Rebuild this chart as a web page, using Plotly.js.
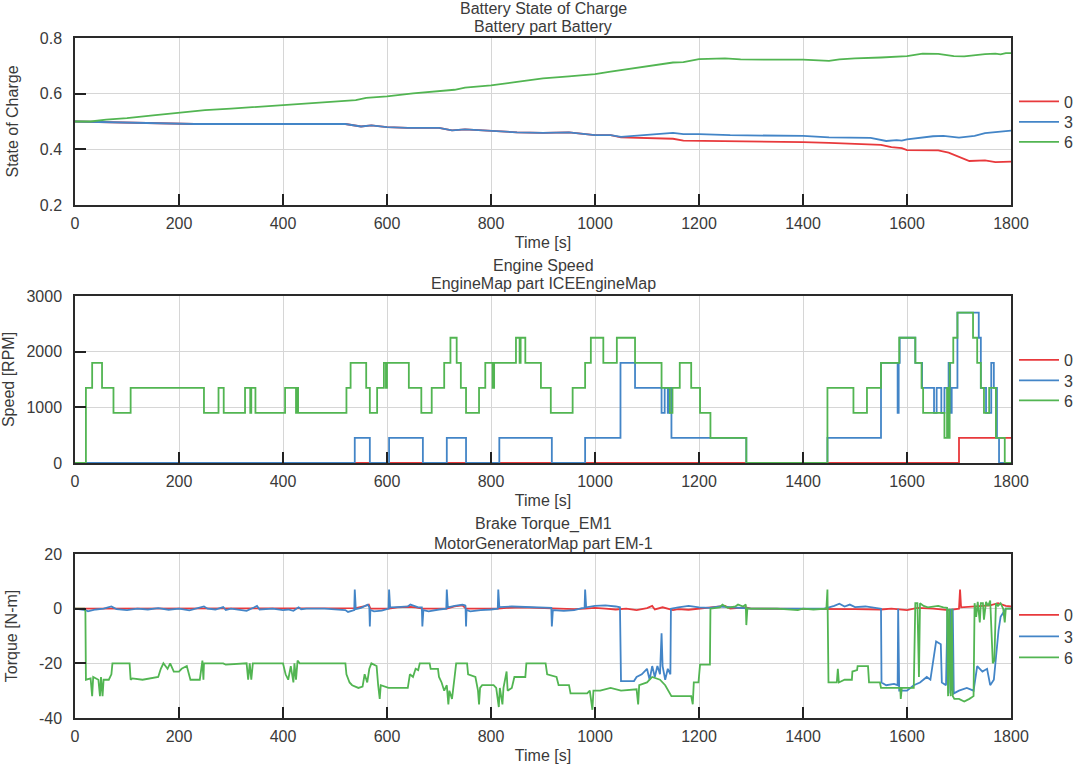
<!DOCTYPE html>
<html>
<head>
<meta charset="utf-8">
<script src="https://cdn.plot.ly/plotly-3.0.1.min.js"></script>
<style>html,body{margin:0;padding:0;background:#fff;}#chart{width:1080px;height:769px;}</style>
</head>
<body>
<div id="chart"></div>
<script>
// ---------- Data ----------
const seriesNames = ["0", "3", "6"];

// Battery state of charge
const soc0T = [0,30,100,200,230,400,520,550,570,600,640,700,725,750,800,850,900,950,1000,1030,1050,1100,1150,1170,1250,1300,1400,1450,1500,1550,1570,1590,1600,1660,1680,1700,1720,1750,1760,1770,1800];
const soc0  = [0.500,0.499,0.496,0.494,0.491,0.491,0.491,0.482,0.486,0.480,0.477,0.477,0.468,0.472,0.467,0.461,0.459,0.461,0.451,0.451,0.443,0.440,0.438,0.431,0.430,0.428,0.426,0.423,0.420,0.416,0.408,0.404,0.397,0.396,0.388,0.373,0.358,0.360,0.356,0.354,0.356];
const soc3T = [0,30,100,200,230,400,520,550,570,600,640,700,725,750,800,850,900,950,1000,1030,1050,1070,1100,1150,1170,1200,1260,1300,1400,1450,1530,1560,1580,1590,1600,1650,1670,1700,1730,1750,1770,1800];
const soc3  = [0.500,0.499,0.496,0.494,0.491,0.491,0.491,0.482,0.486,0.480,0.477,0.477,0.468,0.472,0.467,0.461,0.459,0.461,0.451,0.451,0.445,0.448,0.454,0.459,0.455,0.455,0.451,0.450,0.448,0.443,0.441,0.430,0.433,0.431,0.436,0.447,0.448,0.442,0.448,0.458,0.462,0.467];
const soc6T = [0,30,60,100,150,200,250,300,400,450,540,560,600,650,700,730,750,800,850,900,950,1000,1030,1060,1100,1150,1170,1200,1250,1280,1400,1450,1470,1500,1550,1600,1630,1660,1690,1710,1750,1770,1780,1790,1800];
const soc6  = [0.500,0.500,0.507,0.512,0.522,0.532,0.541,0.546,0.559,0.565,0.577,0.585,0.590,0.601,0.610,0.614,0.622,0.630,0.642,0.655,0.662,0.670,0.679,0.687,0.699,0.712,0.713,0.724,0.727,0.723,0.722,0.718,0.723,0.727,0.730,0.735,0.744,0.743,0.735,0.734,0.742,0.744,0.741,0.746,0.746];

// Engine speed (step changes: time, new value)
const spd0T = [0,1700,1800];
const spd0  = [0,450,450];
const spd3T = [0,538,567,604,669,715,752,816,917,981,1049,1077,1128,1134,1140,1143,1147,1291,1447,1550,1582,1584,1586,1616,1629,1652,1657,1666,1672,1680,1683,1686,1697,1738,1742,1752,1762,1767,1773,1777,1800];
const spd3  = [0,450,0,450,0,450,0,450,0,450,1800,1350,900,1350,900,1350,450,0,450,1800,900,1800,2250,1800,1350,900,1350,900,1350,1800,900,1350,2700,2250,1350,900,1800,1350,450,0,0];
const spd6T = [0,21,33,52,74,107,248,276,286,327,337,339,347,404,425,427,429,522,530,560,567,581,594,598,600,642,666,686,710,722,734,742,752,777,789,803,806,848,855,857,866,896,915,957,981,992,1016,1042,1077,1128,1144,1149,1163,1185,1202,1222,1291,1447,1497,1523,1550,1585,1616,1628,1631,1672,1677,1680,1682,1689,1697,1727,1735,1742,1748,1758,1771,1788,1800];
const spd6  = [0,1350,1800,1350,900,1350,900,1350,900,1350,900,1350,900,1350,900,1350,900,1350,1800,1350,900,1350,1800,1350,1800,1350,900,1350,1800,2250,1800,1350,900,1350,1800,1350,1800,2250,1800,2250,1800,1350,900,1350,1800,2250,1800,2250,1800,1350,900,1350,1800,1350,900,450,0,1350,900,1350,1800,2250,1800,1350,900,450,1350,450,1800,2250,2700,2250,1800,1350,900,1350,450,0,0];

// Brake torque EM1
const trq0T = [0,530,540,555,565,568,604,620,640,655,668,715,730,745,752,814,830,860,890,917,960,981,1000,1020,1040,1060,1080,1100,1110,1115,1130,1150,1160,1180,1200,1230,1250,1260,1290,1300,1400,1500,1550,1570,1600,1620,1650,1680,1700,1702,1704,1730,1760,1775,1790,1800];
const trq0  = [0,0,0.2,0.8,1.5,0,0,0.5,0.7,0.5,0,0,0.8,1.2,0,0,0.3,0.5,0.3,0,-0.2,0,0.3,0,-0.3,0,-0.5,0.2,1,-0.3,0.5,-0.5,-0.2,-0.4,0,0.4,1,0,0.5,0,0,-0.2,-0.3,0,-0.5,0.3,0,-0.5,0,7,0.5,0.8,1.2,2,1,0.8];
const trq3T = [0,10,20,25,40,55,70,75,80,100,120,140,160,180,200,220,240,248,255,270,285,290,300,330,345,350,355,380,400,410,420,430,435,445,480,520,525,530,537,538,540,550,560,563,566,567,568,575,590,600,603,604,606,620,640,645,660,667,668,670,680,700,714,715,717,730,745,750,751,752,753,760,780,800,813,814,816,840,870,900,916,917,919,940,960,975,980,981,983,1000,1020,1040,1048,1050,1075,1080,1090,1100,1105,1110,1115,1120,1125,1128,1130,1135,1140,1145,1146,1160,1180,1200,1220,1240,1260,1280,1300,1350,1400,1440,1450,1460,1470,1480,1490,1500,1520,1540,1550,1551,1560,1575,1582,1583,1585,1600,1613,1625,1638,1645,1654,1656,1665,1667,1675,1678,1680,1683,1685,1688,1690,1700,1715,1728,1735,1745,1754,1760,1767,1772,1776,1780,1790,1800];
const trq3  = [0,-0.3,-0.5,-1,-0.3,0,0.8,0.3,-0.2,-0.5,0,-0.3,0.2,-0.4,0,-0.6,0.4,0.8,0,-0.3,0.6,-0.5,0,-0.8,0.5,1,-0.3,0,-0.5,-0.3,-0.8,0.5,-0.2,0,0,-0.5,-1.2,-0.8,-0.5,7,-0.2,0.3,1,1.5,0.5,-6.5,-0.5,-1,-0.7,-0.3,0,7,0.5,0.6,0.8,1.5,0.5,0.5,-6.5,-0.5,-1,-0.3,0,7,0.5,1,1.5,1.2,1,-6.5,-0.5,-1,-0.5,-0.3,0,7,0.6,0.8,0.7,0.5,0.3,-6.5,-0.5,-0.8,-0.5,0.2,0.3,7,0.5,1,1.2,0.8,0.5,-26.5,-26.5,-25,-24,-22,-26,-21,-25,-21,-24,-9,-21,-26,-22,-24,0,0.5,1,0.5,0.3,0.8,0.5,0.3,0,0,0,0,0.5,1,1.8,0.8,1.5,0.6,0.8,0.3,0,-27,-28,-27.5,-28,0,-30,-30,-28,-27,-25,-26,-13,-12,-13,-27,-28,0,-31,0,-30,0,-31,-30,-29,-30,-21,-23,-22,-28,-26,-15,-8,-3,0,0];
const trq6T = [0,18,20,21,30,33,35,45,48,50,53,55,65,70,72,105,107,110,130,150,160,165,170,178,183,190,200,205,215,222,240,245,247,248,260,285,290,330,333,336,339,342,400,405,410,415,420,422,425,428,432,520,522,528,533,545,553,557,562,566,570,580,583,586,588,603,640,644,650,655,660,663,682,684,698,700,705,710,715,718,720,725,730,733,754,756,770,775,777,779,783,805,810,815,817,822,824,830,832,840,845,866,868,905,908,926,930,950,953,985,990,995,997,1010,1030,1050,1080,1083,1085,1100,1110,1125,1135,1147,1185,1188,1190,1199,1202,1221,1222,1240,1245,1255,1270,1275,1285,1290,1291,1293,1350,1390,1400,1420,1445,1447,1449,1465,1467,1469,1480,1494,1495,1504,1505,1525,1527,1548,1550,1587,1588,1590,1613,1616,1620,1623,1625,1632,1640,1660,1670,1677,1679,1681,1684,1686,1688,1691,1700,1710,1720,1728,1730,1733,1736,1740,1742,1746,1748,1752,1756,1760,1765,1768,1771,1775,1780,1785,1788,1790,1800];
const trq6  = [0,0,-1,-26,-25.5,-32,-25,-26,-32,-25,-32,-26,-26,-24,-20,-20,-26,-25.5,-26,-25.5,-25,-22,-20,-22,-20,-23,-23,-22,-21,-26,-26,-19,-26,-20,-20,-20,-20.5,-20,-26,-20,-26,-20,-20,-24,-26,-21,-27,-20,-26,-19,-20,-20,-24,-27,-28,-29,-28.5,-24,-27,-22,-20,-21,-28,-33,-28,-29,-29,-24,-25,-22,-22.5,-20,-20,-22,-22,-25,-27,-30,-28,-35,-30,-33,-25,-20,-20,-24,-25,-30,-35,-29,-28,-28,-29,-36,-29,-35,-29,-23,-30,-29,-25,-25,-20,-20,-24,-25,-28,-28,-31,-31,-30,-37,-30,-30,-29,-30,-29.5,-35,-28,-27,-25,-26,-28,-32,-32,-35,-27,-27,-20.5,-20.5,0,0.5,1.5,0.3,0.8,1.5,0.8,1.5,-6,0,0,-0.5,0,-0.3,0,7,-27,-27,-22,-27,-26,-26,-23,-22.5,-21,-21,-27,-27,-29,-29,-33,-29,-29,2,2,-25,2,1,0.5,1,0.5,0.3,-32,0,-32,0,-32,-33,-33,-34,-33,-32,2,-3,2.5,-5,2,2,-4,2.5,1,3,-20,-19,2,1,2,0,-5,0,0];

// Axis tick labels
const xTicks = [0,200,400,600,800,1000,1200,1400,1600,1800];
const socTicks = [0.2,0.4,0.6,0.8];
const socTickText = ["0.2","0.4","0.6","0.8"];
const spdTicks = [0,1000,2000,3000];
const spdTickText = ["0","1000","2000","3000"];
const trqTicks = [-40,-20,0,20];
const trqTickText = ["-40","-20","0","20"];

// ---------- Styling ----------
const colors = ["#e8393c", "#4385c7", "#52b552"];
const FONT = "Arial, 'Liberation Sans', Helvetica, sans-serif";
const TXT = "#3a3a3a";
const FS = 16;

// one legend per trace, so each entry can be placed like the reference
const legendRows = [[101.5, 122, 142], [360, 380.5, 400.5], [615, 636.5, 657.5]];

function mk(x, y, i, p, shape) {
  const suffix = p === 0 ? "" : String(p + 1);
  const legIdx = p * 3 + i;
  return {
    x: x, y: y, type: "scatter", mode: "lines", name: seriesNames[i],
    xaxis: "x" + suffix, yaxis: "y" + suffix,
    legend: legIdx === 0 ? "legend" : "legend" + (legIdx + 1),
    line: {color: colors[i], width: 1.8, shape: shape || "linear"}
  };
}

const data = [
  mk(soc0T, soc0, 0, 0), mk(soc3T, soc3, 1, 0), mk(soc6T, soc6, 2, 0),
  mk(spd0T, spd0, 0, 1, "hv"), mk(spd3T, spd3, 1, 1, "hv"), mk(spd6T, spd6, 2, 1, "hv"),
  mk(trq0T, trq0, 0, 2), mk(trq3T, trq3, 1, 2), mk(trq6T, trq6, 2, 2)
];

const W = 1080, H = 769;
const xDom = [75 / W, 1011 / W];
function yDom(top, bottom) { return [1 - bottom / H, 1 - top / H]; }

function xAxis(anchor) {
  return {
    domain: xDom, anchor: anchor, range: [0, 1800],
    tickvals: xTicks, ticktext: xTicks.map(String),
    showgrid: true, gridcolor: "#d6d6d6", gridwidth: 1,
    showline: true, mirror: true, linecolor: "#2a2a2a", linewidth: 1.5,
    ticks: "inside", ticklen: 11, tickwidth: 1.5, tickcolor: "#222",
    zeroline: false, ticklabelstandoff: 3,
    tickfont: {family: FONT, size: FS, color: TXT},
    title: {text: "Time [s]", font: {family: FONT, size: FS, color: TXT}, standoff: 6}
  };
}
function yAxis(anchor, dom, range, tv, tt, title) {
  return {
    domain: dom, anchor: anchor, range: range,
    tickvals: tv, ticktext: tt,
    showgrid: true, gridcolor: "#d6d6d6", gridwidth: 1,
    showline: true, mirror: true, linecolor: "#2a2a2a", linewidth: 1.5,
    ticks: "inside", ticklen: 11, tickwidth: 1.5, tickcolor: "#222",
    zeroline: false, ticklabelstandoff: 8,
    tickfont: {family: FONT, size: FS, color: TXT},
    title: {text: title, font: {family: FONT, size: FS, color: TXT}, standoff: 17}
  };
}
function legendAt(centerPx) {
  return {
    x: 1014 / W, xanchor: "left", y: 1 - centerPx / H, yanchor: "middle",
    font: {family: FONT, size: FS, color: TXT},
    bgcolor: "rgba(0,0,0,0)", borderwidth: 0, itemwidth: 40
  };
}
function titleAnn(text, yPx) {
  return {
    text: text, xref: "paper", yref: "paper", x: 543 / W, y: 1 - yPx / H,
    xanchor: "center", yanchor: "middle", showarrow: false,
    font: {family: FONT, size: FS, color: TXT}
  };
}

const layout = {
  width: W, height: H,
  margin: {l: 0, r: 0, t: 0, b: 0},
  paper_bgcolor: "#fff", plot_bgcolor: "#fff",
  showlegend: true,
  xaxis: xAxis("y"),
  yaxis: yAxis("x", yDom(38, 205), [0.2, 0.8], socTicks, socTickText, "State of Charge"),
  xaxis2: xAxis("y2"),
  yaxis2: yAxis("x2", yDom(296, 463), [0, 3000], spdTicks, spdTickText, "Speed [RPM]"),
  xaxis3: xAxis("y3"),
  yaxis3: yAxis("x3", yDom(554, 718), [-40, 20], trqTicks, trqTickText, "Torque [N-m]"),
  annotations: [
    titleAnn("Battery State of Charge", 8),
    titleAnn("Battery part Battery", 27),
    titleAnn("Engine Speed", 265),
    titleAnn("EngineMap part ICEEngineMap", 284),
    titleAnn("Brake Torque_EM1", 524),
    titleAnn("MotorGeneratorMap part EM-1", 543)
  ]
};
legendRows.forEach(function (row, p) {
  row.forEach(function (cy, i) {
    const k = p * 3 + i;
    layout[k === 0 ? "legend" : "legend" + (k + 1)] = legendAt(cy);
  });
});

Plotly.newPlot("chart", data, layout, {displayModeBar: false, responsive: false});
</script>
</body>
</html>
